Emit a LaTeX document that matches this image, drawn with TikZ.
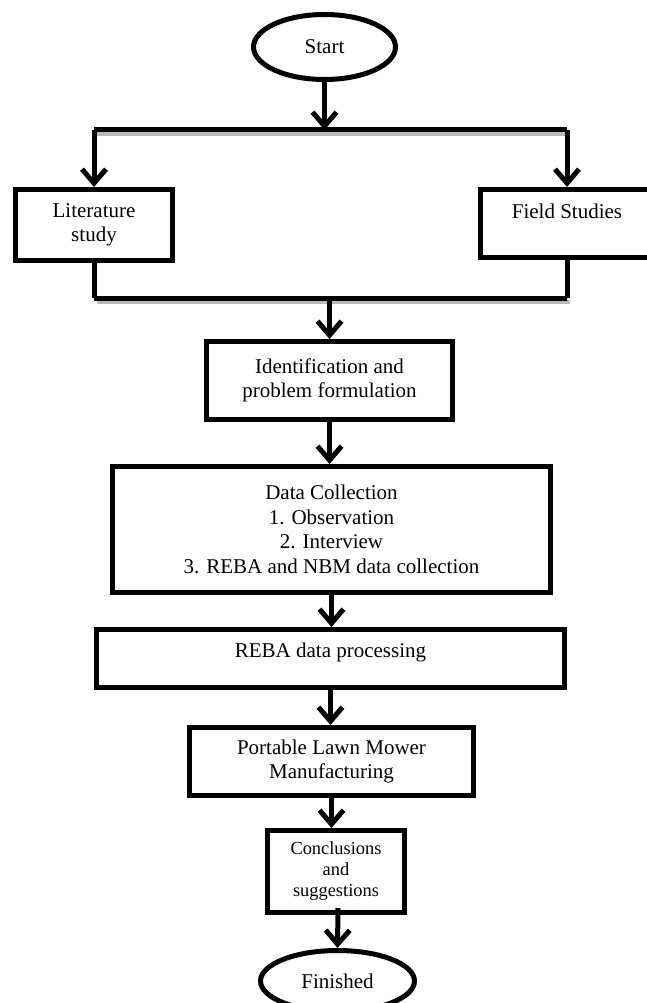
\documentclass[tikz,border=0pt]{standalone}
\usepackage{fontspec}
\setmainfont{Liberation Serif}
\usetikzlibrary{arrows.meta,shapes.geometric,calc}
\begin{document}
\begin{tikzpicture}[x=1pt,y=-1pt,
  box/.style={draw,line width=5pt,rectangle,align=center,font=\fontsize{21}{24.5}\selectfont,inner sep=0pt},
  smallbox/.style={box,font=\fontsize{18.4}{21}\selectfont},
  oval/.style={draw,line width=5pt,ellipse,font=\fontsize{21}{25}\selectfont,inner sep=0pt},
  conn/.style={line width=5pt},
  arr/.style={conn,-{Straight Barb[length=14pt,width=24pt]}},
  shadowline/.style={preaction={draw=gray!55,line width=4pt,transform canvas={shift={(3pt,-4pt)}}}}
]
\fill[white] (0,0) rectangle (646,1003);
\useasboundingbox (0,0) rectangle (646,1003);

\node[oval,minimum width=142pt,minimum height=65pt] (start) at (324.5,47) {Start};
\node[box,minimum width=157pt,minimum height=71pt] (lit) at (94,225) {Literature\\study};
\node[box,minimum width=173pt,minimum height=68pt] (field) at (567,223.5) {Field Studies\\~};
\node[box,minimum width=246pt,minimum height=78pt] (ident) at (329.5,380.5) {Identification and\\problem formulation};
\node[box,minimum width=438pt,minimum height=126pt] (data) at (331.5,529.5) {Data Collection\\1. Observation\\2. Interview\\3. REBA and NBM data collection};
\node[box,minimum width=468pt,minimum height=58pt] (reba) at (330.5,658.5) {REBA data processing\\[-8pt]~};
\node[box,minimum width=284pt,minimum height=68pt] (port) at (331.5,761.5) {Portable Lawn Mower\\Manufacturing};
\node[smallbox,minimum width=137pt,minimum height=82pt] (concl) at (336,871.5) {Conclusions\\and\\suggestions};
\node[oval,minimum width=154pt,minimum height=61pt] (fin) at (337.5,981) {Finished};

\coordinate (t) at (324.5,130);
\coordinate (b) at (329.5,298);

\draw[arr] (start.south) -- (t);
\draw[conn,shadowline] (lit.north|-t) -- (field.north|-t);
\draw[arr] (lit.north|-t) -- (lit.north);
\draw[arr] (field.north|-t) -- (field.north);

\draw[conn] (lit.south) -- (lit.south|-b);
\draw[conn] (field.south) -- (field.south|-b);
\draw[conn,shadowline] (lit.south|-b) -- (field.south|-b);
\draw[arr] (b) -- (ident.north);

\draw[arr] (ident.south) -- (ident.south|-data.north);
\draw[arr] (data.south) -- (data.south|-reba.north);
\draw[arr] (reba.south) -- (reba.south|-port.north);
\draw[arr] (port.south) -- (port.south|-concl.north);
\draw[arr] ($(concl.south)+(2,-7)$) -- ($(fin.north)+(0,0)$);
\end{tikzpicture}
\end{document}
